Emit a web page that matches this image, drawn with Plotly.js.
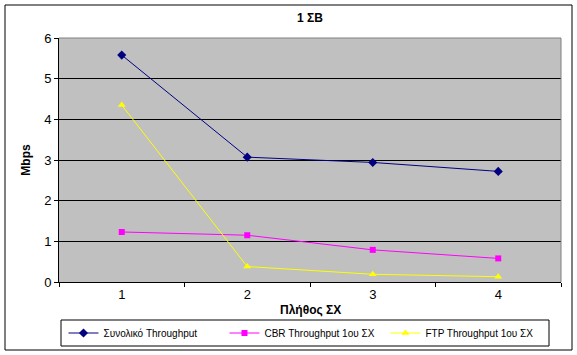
<!DOCTYPE html>
<html>
<head>
<meta charset="utf-8">
<script src="https://cdn.plot.ly/plotly-3.0.1.min.js"></script>
<style>
html,body{margin:0;padding:0;background:#fff;}
#chart{width:577px;height:355px;}
</style>
</head>
<body>
<div id="chart"></div>
<script>
const categories = ['1', '2', '3', '4'];
const totalThroughput = [5.58, 3.07, 2.94, 2.72];
const cbrThroughput = [1.23, 1.15, 0.79, 0.58];
const ftpThroughput = [4.35, 0.38, 0.19, 0.13];
const seriesNames = ['Συνολικό Throughput', 'CBR Throughput 1ου ΣΧ', 'FTP Throughput 1ου ΣΧ'];

const font = "Arial, 'Liberation Sans', sans-serif";

const traces = [
  {x: categories, y: totalThroughput, name: seriesNames[0], type: 'scatter', mode: 'lines+markers',
   line: {color: '#000080', width: 1}, marker: {symbol: 'diamond', size: 7, color: '#000080'}},
  {x: categories, y: cbrThroughput, name: seriesNames[1], type: 'scatter', mode: 'lines+markers',
   line: {color: '#ff00ff', width: 1}, marker: {symbol: 'square', size: 6, color: '#ff00ff'}},
  {x: categories, y: ftpThroughput, name: seriesNames[2], type: 'scatter', mode: 'lines+markers',
   line: {color: '#ffff00', width: 1}, marker: {symbol: 'triangle-up', size: 7, color: '#ffff00'}}
];

const layout = {
  width: 577, height: 355,
  margin: {l: 59, r: 16, t: 38, b: 73, autoexpand: false},
  paper_bgcolor: '#ffffff',
  plot_bgcolor: '#c0c0c0',
  font: {family: font, size: 12, color: '#000'},
  title: {text: '<b>1 ΣΒ</b>', font: {family: font, size: 12, color: '#000'},
          x: 0.5, xref: 'paper', xanchor: 'center', y: 1 - 18/355, yref: 'container', yanchor: 'middle'},
  xaxis: {type: 'category', range: [-0.5, 3.5], tickson: 'boundaries', ticks: 'outside', ticklen: 4,
          tickcolor: '#000', showline: true, linecolor: '#000', linewidth: 1, showgrid: false,
          tickfont: {family: font, size: 13, color: '#000'}, fixedrange: true, automargin: false},
  yaxis: {range: [0, 6], dtick: 1, ticks: 'outside', ticklen: 4, tickcolor: '#000',
          showline: true, linecolor: '#000', linewidth: 1, gridcolor: '#000', gridwidth: 1,
          zeroline: false, tickfont: {family: font, size: 13, color: '#000'}, automargin: false,
          title: {text: '<b>Mbps</b>', font: {family: font, size: 12, color: '#000'}, standoff: 10}},
  showlegend: true,
  legend: {orientation: 'h', x: 0.49, xanchor: 'center', y: (282 - 333) / 244, yanchor: 'middle',
           font: {family: font, size: 10, color: '#000'}, bgcolor: 'rgba(0,0,0,0)',
           entrywidth: 116, itemwidth: 30, tracegroupgap: 0},
  annotations: [
    {text: '<b>Πλήθος ΣΧ</b>', xref: 'paper', yref: 'paper', x: (310 - 59) / 502, y: (282 - 310) / 244,
     xanchor: 'center', yanchor: 'middle', showarrow: false, font: {family: font, size: 12, color: '#000'}}
  ],
  shapes: [
    {type: 'line', xref: 'paper', yref: 'paper', x0: 0, x1: 1, y0: 1, y1: 1, line: {color: '#808080', width: 1}},
    {type: 'line', xref: 'paper', yref: 'paper', x0: 1, x1: 1, y0: 0, y1: 1, line: {color: '#808080', width: 1}},
    {type: 'rect', xref: 'paper', yref: 'paper', x0: (61 - 59) / 502, x1: (549 - 59) / 502,
     y0: (282 - 346) / 244, y1: (282 - 320) / 244, line: {color: '#000', width: 1}},
    {type: 'rect', xref: 'paper', yref: 'paper', x0: (5 - 59) / 502, x1: (572 - 59) / 502,
     y0: (282 - 350) / 244, y1: (282 - 5) / 244, line: {color: '#000', width: 1}}
  ]
};

Plotly.newPlot('chart', traces, layout, {displayModeBar: false, staticPlot: true});
</script>
</body>
</html>
